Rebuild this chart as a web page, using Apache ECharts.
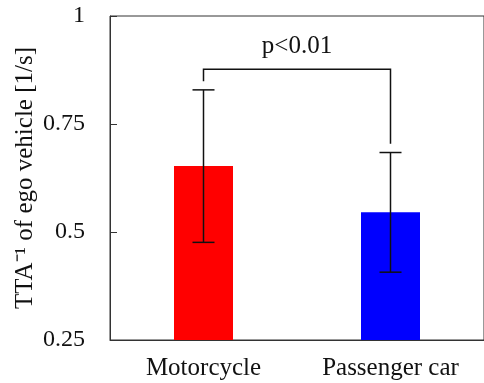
<!DOCTYPE html>
<html>
<head>
<meta charset="utf-8">
<script src="https://cdn.jsdelivr.net/npm/echarts@6/dist/echarts.min.js"></script>
<style>
  html, body { margin: 0; padding: 0; background: #fff; }
</style>
</head>
<body>
<div id="chart" style="width:484px;height:383px;"></div>
<script>
// data
var categories = ["Motorcycle", "Passenger car"];
var meanValues = [0.653, 0.546];
var errLow = [0.476, 0.407];
var errHigh = [0.829, 0.684];
var barColors = ["#ff0000", "#0000ff"];
// significance bracket: left leg bottom, top, right leg bottom
var bracketLeft = 0.849;
var bracketTop = 0.877;
var bracketRight = 0.704;
var pLabel = "p<0.01";

var font = "'Liberation Serif', 'Times New Roman', serif";
var chart = echarts.init(document.getElementById("chart"));

var option = {
  animation: false,
  textStyle: { fontFamily: font },
  grid: {
    left: 110,
    top: 16,
    bottom: 43,
    right: -6,
    show: true,
    borderColor: "#333",
    borderWidth: 1
  },
  xAxis: {
    type: "category",
    data: categories,
    axisLine: { show: true, lineStyle: { color: "#333", width: 1 } },
    axisTick: { show: false },
    axisLabel: { color: "#111", fontSize: 25, fontFamily: font, margin: 16 }
  },
  yAxis: {
    type: "value",
    min: 0.25,
    max: 1,
    interval: 0.25,
    name: "TTA\u207B\u00B9 of ego vehicle [1/s]",
    nameLocation: "middle",
    nameGap: 72,
    nameMoveOverlap: false,
    nameTextStyle: { color: "#111", fontSize: 25, fontFamily: font },
    axisLine: { show: true, lineStyle: { color: "#333", width: 1 } },
    axisTick: { show: true, inside: true, length: 7, lineStyle: { color: "#333" } },
    axisLabel: { color: "#111", fontSize: 24, fontFamily: font, margin: 25 },
    splitLine: { show: false }
  },
  series: [
    {
      type: "bar",
      barWidth: 59,
      data: meanValues.map(function (v, i) {
        return { value: v, itemStyle: { color: barColors[i] } };
      })
    },
    {
      type: "custom",
      z: 10,
      data: categories.map(function (c, i) { return [i, errLow[i], errHigh[i]]; }),
      renderItem: function (params, api) {
        var lo = api.coord([api.value(0), api.value(1)]);
        var hi = api.coord([api.value(0), api.value(2)]);
        var w = 11;
        var style = { stroke: "#111", lineWidth: 1.5 };
        return {
          type: "group",
          children: [
            { type: "line", shape: { x1: lo[0], y1: lo[1], x2: hi[0], y2: hi[1] }, style: style },
            { type: "line", shape: { x1: lo[0] - w, y1: lo[1], x2: lo[0] + w, y2: lo[1] }, style: style },
            { type: "line", shape: { x1: hi[0] - w, y1: hi[1], x2: hi[0] + w, y2: hi[1] }, style: style }
          ]
        };
      }
    },
    {
      type: "custom",
      z: 10,
      data: [[0, 1, bracketLeft, bracketTop, bracketRight]],
      renderItem: function (params, api) {
        var a = api.coord([api.value(0), api.value(2)]);
        var b = api.coord([api.value(0), api.value(3)]);
        var c = api.coord([api.value(1), api.value(3)]);
        var d = api.coord([api.value(1), api.value(4)]);
        return {
          type: "group",
          children: [
            {
              type: "polyline",
              shape: { points: [a, b, c, d] },
              style: { stroke: "#111", lineWidth: 1.5, fill: null }
            },
            {
              type: "text",
              x: (b[0] + c[0]) / 2,
              y: b[1] - 10,
              style: {
                text: pLabel,
                fontSize: 25,
                fontFamily: font,
                fill: "#111",
                align: "center",
                verticalAlign: "bottom"
              }
            }
          ]
        };
      }
    }
  ]
};

chart.setOption(option);
</script>
</body>
</html>
